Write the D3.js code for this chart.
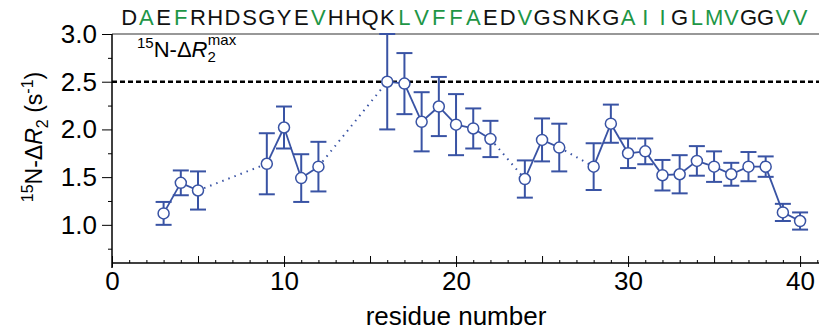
<!DOCTYPE html>
<html>
<head>
<meta charset="utf-8">
<script src="https://cdn.jsdelivr.net/npm/d3@7"></script>
<style>
  body { margin: 0; background: #fff; }
  text { font-family: "Liberation Sans", Arial, Helvetica, sans-serif; }
</style>
</head>
<body>
<div id="chart"></div>
<script>
const sequence = "DAEFRHDSGYEVHHQKLVFFAEDVGSNKGAIIGLMVGGVV".split("");
const hydrophobic = [2, 4, 12, 17, 18, 19, 20, 21, 24, 30, 31, 32, 34, 35, 36, 39, 40];

const residues = [3, 4, 5, 9, 10, 11, 12, 16, 17, 18, 19, 20, 21, 22, 24, 25, 26,
  28, 29, 30, 31, 32, 33, 34, 35, 36, 37, 38, 39, 40];
const dR2 = [1.12, 1.44, 1.36, 1.64, 2.02, 1.49, 1.61, 2.50, 2.48, 2.08, 2.24, 2.05, 2.01, 1.90, 1.48, 1.89, 1.81,
  1.61, 2.06, 1.75, 1.77, 1.52, 1.53, 1.67, 1.61, 1.53, 1.61, 1.61, 1.13, 1.04];
const dR2err = [0.12, 0.13, 0.20, 0.32, 0.22, 0.25, 0.26, 0.50, 0.32, 0.31, 0.31, 0.32, 0.21, 0.19, 0.195, 0.225, 0.25,
  0.245, 0.20, 0.155, 0.135, 0.16, 0.20, 0.155, 0.16, 0.12, 0.153, 0.107, 0.09, 0.09];
const dR2max = 2.5;

const xTicks = [0, 10, 20, 30, 40];
const yTicks = [1.0, 1.5, 2.0, 2.5, 3.0];

const width = 819, height = 331;
const blue = "#3953a4", green = "#1e9646";

const svg = d3.select("#chart").append("svg")
  .attr("width", width)
  .attr("height", height);

const x = d3.scaleLinear().domain([0, 41.1]).range([112, 819]);
const y = d3.scaleLinear().domain([0.6, 3.0]).range([263, 34]);

const data = residues.map((r, i) => ({ r, v: dR2[i], e: dR2err[i] }));

// top frame line
svg.append("line")
  .attr("x1", x(0)).attr("x2", width)
  .attr("y1", y(3.0)).attr("y2", y(3.0))
  .attr("stroke", "#333").attr("stroke-width", 1.2);

// x axis
const xAxis = svg.append("g").attr("transform", `translate(0,${y(0.6)})`);
xAxis.call(d3.axisBottom(x).tickValues(d3.range(0, 42, 1)).tickSize(-3).tickFormat(""));
xAxis.call(g => g.selectAll(".tick")
  .filter(d => d % 5 === 0)
  .select("line").attr("y2", -7));
xAxis.call(g => g.select(".domain").remove());
xAxis.append("line").attr("x1", x(0)).attr("x2", width).attr("stroke", "#000").attr("stroke-width", 1.5);
svg.append("g").attr("transform", `translate(0,${y(0.6)})`)
  .call(d3.axisBottom(x).tickValues(xTicks).tickSize(4).tickPadding(5).tickFormat(d3.format("d")))
  .call(g => g.select(".domain").remove())
  .call(g => g.selectAll("text").attr("font-size", 26).attr("fill", "#000"));

// y axis
svg.append("g").attr("transform", `translate(${x(0)},0)`)
  .call(d3.axisLeft(y).tickValues(d3.range(0.75, 3.01, 0.5)).tickSize(4).tickFormat(""))
  .call(g => g.select(".domain").remove());
svg.append("g").attr("transform", `translate(${x(0)},0)`)
  .call(d3.axisLeft(y).tickValues(yTicks).tickSize(10).tickPadding(5).tickFormat(d3.format(".1f")))
  .call(g => g.select(".domain").remove())
  .call(g => g.selectAll("text").attr("font-size", 26).attr("fill", "#000"));
svg.append("line")
  .attr("x1", x(0)).attr("x2", x(0))
  .attr("y1", y(3.0)).attr("y2", y(0.6) + 5)
  .attr("stroke", "#000").attr("stroke-width", 1.5);

// axis titles
svg.append("text")
  .attr("x", 456).attr("y", 325)
  .attr("text-anchor", "middle").attr("font-size", 26)
  .text("residue number");

const yt = svg.append("text")
  .attr("transform", `translate(42,137) rotate(-90)`)
  .attr("text-anchor", "middle").attr("font-size", 23);
yt.append("tspan").attr("font-size", 16).attr("dy", -9).text("15");
yt.append("tspan").attr("dy", 9).text("N-Δ");
yt.append("tspan").attr("font-style", "italic").text("R");
yt.append("tspan").attr("font-size", 16).attr("dy", 6).text("2");
yt.append("tspan").attr("dy", -6).text(" (s");
yt.append("tspan").attr("font-size", 16).attr("dy", -9).text("-1");
yt.append("tspan").attr("dy", 9).text(")");

// dashed max line
svg.append("line")
  .attr("x1", x(0)).attr("x2", width)
  .attr("y1", y(dR2max)).attr("y2", y(dR2max))
  .attr("stroke", "#000").attr("stroke-width", 2.5)
  .attr("stroke-dasharray", "5,3");

const lt = svg.append("text").attr("x", 137).attr("y", 57).attr("font-size", 22);
lt.append("tspan").attr("font-size", 15).attr("dy", -9).text("15");
lt.append("tspan").attr("dy", 9).text("N-Δ");
lt.append("tspan").attr("font-style", "italic").text("R");
lt.append("tspan").attr("font-size", 15).attr("dy", 5).text("2");
lt.append("tspan").attr("font-size", 15).attr("dx", -8).attr("dy", -17).text("max");

// sequence
svg.append("g").selectAll("text")
  .data(sequence)
  .join("text")
  .attr("x", (d, i) => x(i + 1))
  .attr("y", 25)
  .attr("text-anchor", "middle")
  .attr("font-size", 22)
  .attr("fill", (d, i) => hydrophobic.includes(i + 1) ? green : "#111")
  .text(d => d);

// connecting lines: solid for consecutive residues, dotted across gaps
const segs = d3.pairs(data);
svg.append("g").selectAll("line")
  .data(segs)
  .join("line")
  .attr("x1", d => x(d[0].r)).attr("y1", d => y(d[0].v))
  .attr("x2", d => x(d[1].r)).attr("y2", d => y(d[1].v))
  .attr("stroke", blue)
  .attr("stroke-width", d => d[1].r - d[0].r === 1 ? 1.8 : 2)
  .attr("stroke-dasharray", d => d[1].r - d[0].r === 1 ? null : "1.5,5");

// error bars
const eb = svg.append("g").attr("stroke", blue).attr("stroke-width", 2);
eb.selectAll(".v").data(data).join("line")
  .attr("x1", d => x(d.r)).attr("x2", d => x(d.r))
  .attr("y1", d => y(d.v - d.e)).attr("y2", d => y(d.v + d.e));
eb.selectAll(".t").data(data).join("line")
  .attr("x1", d => x(d.r) - 8).attr("x2", d => x(d.r) + 8)
  .attr("y1", d => y(d.v + d.e)).attr("y2", d => y(d.v + d.e));
eb.selectAll(".b").data(data).join("line")
  .attr("x1", d => x(d.r) - 8).attr("x2", d => x(d.r) + 8)
  .attr("y1", d => y(d.v - d.e)).attr("y2", d => y(d.v - d.e));

// markers
svg.append("g").selectAll("circle")
  .data(data)
  .join("circle")
  .attr("cx", d => x(d.r)).attr("cy", d => y(d.v))
  .attr("r", 5.5)
  .attr("fill", "#fff")
  .attr("stroke", blue)
  .attr("stroke-width", 1.5);
</script>
</body>
</html>
